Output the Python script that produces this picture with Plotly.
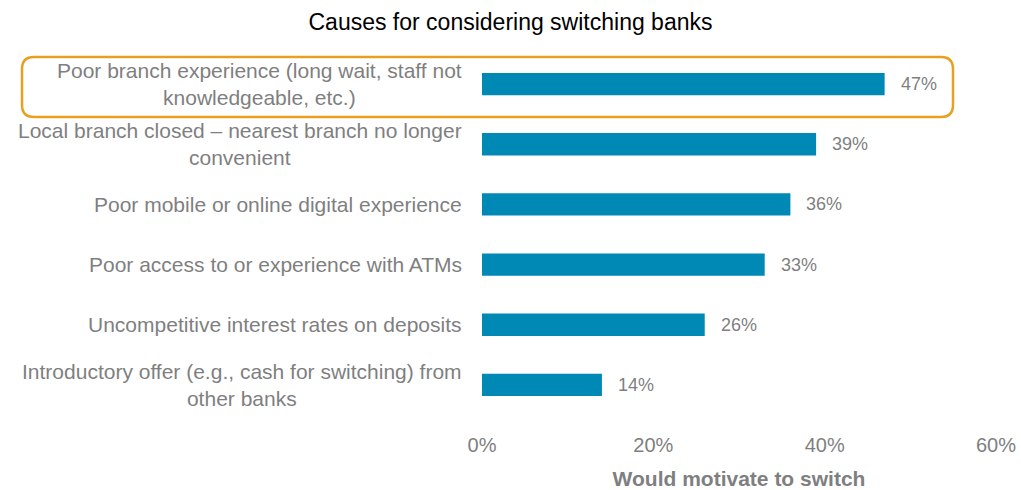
import plotly.graph_objects as go

categories = [
    "Poor branch experience (long wait, staff not<br>knowledgeable, etc.)",
    "Local branch closed – nearest branch no longer<br>convenient",
    "Poor mobile or online digital experience",
    "Poor access to or experience with ATMs",
    "Uncompetitive interest rates on deposits",
    "Introductory offer (e.g., cash for switching) from<br>other banks",
]
values = [0.47, 0.39, 0.36, 0.33, 0.26, 0.14]
tick_vals = [0, 0.2, 0.4, 0.6]
tick_text = ["0%", "20%", "40%", "60%"]

W, H = 1021, 490
L, R, T, B = 482, 25, 54, 75
FONT = "Liberation Sans, Arial, sans-serif"
GRAY = "#7f7f7f"

fig = go.Figure(go.Bar(
    x=values, y=categories, orientation="h",
    marker=dict(color="#0089B4", line=dict(width=0)),
    hoverinfo="skip",
))

annotations = []
for c, v in zip(categories, values):
    annotations.append(dict(x=0, y=c, xref="paper", yref="y", text=c,
                            xanchor="right", yanchor="middle", align="center",
                            xshift=-18, showarrow=False,
                            font=dict(family=FONT, size=21, color=GRAY)))
    annotations.append(dict(x=v, y=c, xref="x", yref="y", text=f"{round(v*100)}%",
                            xanchor="left", yanchor="middle", xshift=14,
                            showarrow=False,
                            font=dict(family=FONT, size=18, color=GRAY)))

pw, ph = W - L - R, H - T - B
def px(x):
    return (x - L) / pw
def py(y):
    return (H - B - y) / ph

x0, x1, y0, y1, r = 22, 953, 57, 117, 12
path = (f"M {px(x0+r)} {py(y0)} L {px(x1-r)} {py(y0)} "
        f"Q {px(x1)} {py(y0)} {px(x1)} {py(y0+r)} "
        f"L {px(x1)} {py(y1-r)} Q {px(x1)} {py(y1)} {px(x1-r)} {py(y1)} "
        f"L {px(x0+r)} {py(y1)} Q {px(x0)} {py(y1)} {px(x0)} {py(y1-r)} "
        f"L {px(x0)} {py(y0+r)} Q {px(x0)} {py(y0)} {px(x0+r)} {py(y0)} Z")

fig.update_layout(
    width=W, height=H,
    margin=dict(l=L, r=R, t=T, b=B, autoexpand=False),
    paper_bgcolor="white", plot_bgcolor="white",
    showlegend=False,
    bargap=0.63,
    title=dict(text="Causes for considering switching banks", x=0.5, xanchor="center",
               y=1 - 22 / H, yanchor="middle", yref="container",
               font=dict(family=FONT, size=23, color="#000000")),
    xaxis=dict(range=[0, 0.6], tickvals=tick_vals, ticktext=tick_text,
               showgrid=False, zeroline=False, showline=False, automargin=False,
               ticks="", ticklabelstandoff=16,
               tickfont=dict(family=FONT, size=20, color=GRAY),
               title=dict(text="<b>Would motivate to switch</b>", standoff=18,
                          font=dict(family=FONT, size=21, color=GRAY))),
    yaxis=dict(autorange="reversed", showticklabels=False, showgrid=False,
               zeroline=False, showline=False, ticks="", automargin=False),
    annotations=annotations,
    shapes=[dict(type="path", path=path, xref="paper", yref="paper",
                 line=dict(color="#E8A020", width=2.5), fillcolor="rgba(0,0,0,0)",
                 layer="above")],
)

fig.write_html("out.html")
